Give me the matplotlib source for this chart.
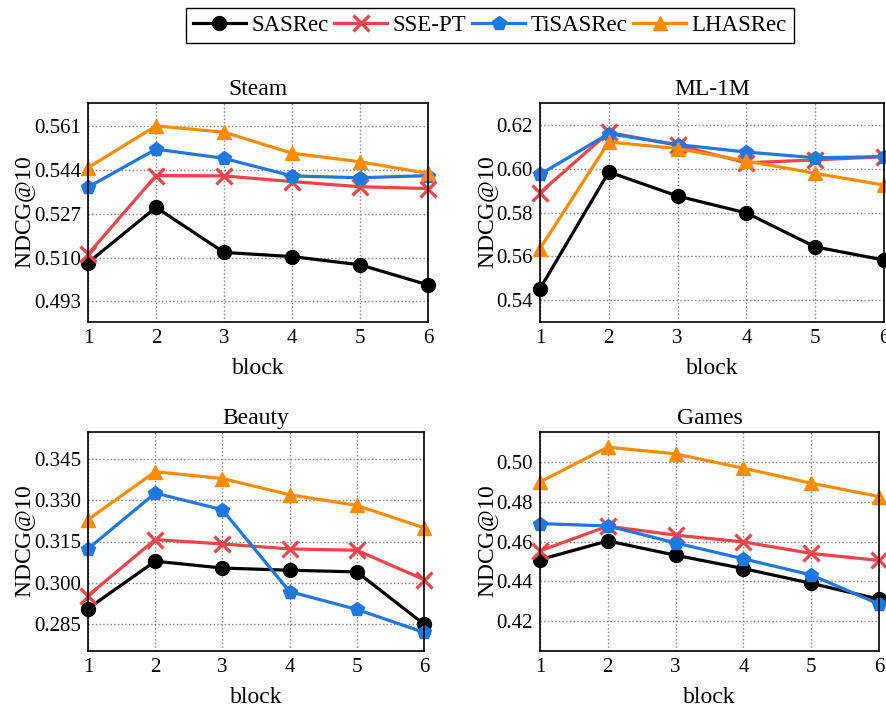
import matplotlib
matplotlib.use("Agg")
from matplotlib import pyplot as plt
import numpy as np

plt.rcParams['font.family'] = ['Liberation Serif', 'DejaVu Serif']
plt.rcParams['mathtext.fontset'] = 'custom'
plt.rcParams['mathtext.rm'] = 'Liberation Serif'
plt.rcParams['mathtext.it'] = 'Liberation Serif:italic'

blocks = [1, 2, 3, 4, 5, 6]
models = ["SASRec", "SSE-PT", "TiSASRec", "LHASRec"]

# Steam
steam_sasrec = [0.5080, 0.5295, 0.5120, 0.5104, 0.5072, 0.4994]
steam_ssept = [0.5113, 0.5418, 0.5417, 0.5395, 0.5375, 0.5368]
steam_tisasrec = [0.5373, 0.5521, 0.5485, 0.5417, 0.5410, 0.5418]
steam_lhasrec = [0.5449, 0.5611, 0.5587, 0.5505, 0.5472, 0.5427]
steam_ticks = [0.493, 0.510, 0.527, 0.544, 0.561]

# ML-1M
ml_sasrec = [0.5452, 0.5985, 0.5875, 0.5798, 0.5643, 0.5583]
ml_ssept = [0.5890, 0.6166, 0.6107, 0.6027, 0.6040, 0.6055]
ml_tisasrec = [0.5974, 0.6160, 0.6110, 0.6076, 0.6050, 0.6055]
ml_lhasrec = [0.5635, 0.6122, 0.6092, 0.6035, 0.5979, 0.5925]
ml_ticks = [0.54, 0.56, 0.58, 0.60, 0.62]

# Beauty
beauty_sasrec = [0.2905, 0.3078, 0.3053, 0.3045, 0.3039, 0.2848]
beauty_ssept = [0.2952, 0.3157, 0.3141, 0.3123, 0.3118, 0.3011]
beauty_tisasrec = [0.3123, 0.3327, 0.3266, 0.2967, 0.2902, 0.2818]
beauty_lhasrec = [0.3230, 0.3405, 0.3380, 0.3321, 0.3282, 0.3200]
beauty_ticks = [0.285, 0.300, 0.315, 0.330, 0.345]

# Games
games_sasrec = [0.4509, 0.4603, 0.4531, 0.4464, 0.4390, 0.4310]
games_ssept = [0.4553, 0.4677, 0.4632, 0.4598, 0.4540, 0.4505]
games_tisasrec = [0.4690, 0.4678, 0.4593, 0.4513, 0.4432, 0.4286]
games_lhasrec = [0.4899, 0.5074, 0.5040, 0.4968, 0.4893, 0.4826]
games_ticks = [0.42, 0.44, 0.46, 0.48, 0.50]

panels = [
	("Steam", [steam_sasrec, steam_ssept, steam_tisasrec, steam_lhasrec], steam_ticks, (0.485, 0.570), "%.3f"),
	("ML-1M", [ml_sasrec, ml_ssept, ml_tisasrec, ml_lhasrec], ml_ticks, (0.530, 0.630), "%.2f"),
	("Beauty", [beauty_sasrec, beauty_ssept, beauty_tisasrec, beauty_lhasrec], beauty_ticks, (0.275, 0.355), "%.3f"),
	("Games", [games_sasrec, games_ssept, games_tisasrec, games_lhasrec], games_ticks, (0.405, 0.515), "%.2f"),
]

colors = ["black", "#f0434a", "#1f77e0", "#ff8c00"]
markers = ["o", "x", "p", "^"]
msizes = [10, 11, 10, 10]

W, H = 886, 705
# axes boxes in pixels: left, top, right, bottom
boxes = [
	(88, 103, 428, 322),
	(540, 103, 884, 322),
	(88, 432, 424, 651),
	(540, 432, 879, 651),
]

fig = plt.figure(figsize=(W / 100, H / 100), dpi=100)

lines = []
for (title, series, ticks, ylim, fmt), (l, t, r, b) in zip(panels, boxes):
	ax = fig.add_axes([l / W, 1 - b / H, (r - l) / W, (b - t) / H])
	for i, vals in enumerate(series):
		ln, = ax.plot(blocks, vals, color=colors[i], marker=markers[i], markersize=msizes[i],
			linewidth=2.3, markeredgewidth=2.3 if markers[i] == "x" else 1.0, label=models[i], clip_on=False)
		lines.append(ln)
	ax.set_xlim(1, 6)
	ax.set_ylim(*ylim)
	ax.set_xticks(blocks)
	ax.set_yticks(ticks)
	ax.set_yticklabels([fmt % v for v in ticks])
	ax.grid(True, linestyle=":", color="gray", linewidth=1.0)
	ax.set_axisbelow(True)
	ax.tick_params(length=0, labelsize=15, pad=5)
	ax.set_title(title, fontsize=17, pad=6)
	ax.set_xlabel("block", fontsize=17, labelpad=7)
	ax.set_ylabel(r"NDCG$@$10", fontsize=17, labelpad=-3)
	for sp in ax.spines.values():
		sp.set_linewidth(1.2)

fig.legend(lines[:4], models, loc="upper center", bbox_to_anchor=(490 / W, 1 - 8 / H), ncol=4,
	fontsize=16.5, frameon=True, fancybox=False, edgecolor="black", framealpha=1,
	handlelength=2.3, handletextpad=0.25, columnspacing=0.25, borderpad=0.3, borderaxespad=0)

fig.savefig("out.png", dpi=100)
